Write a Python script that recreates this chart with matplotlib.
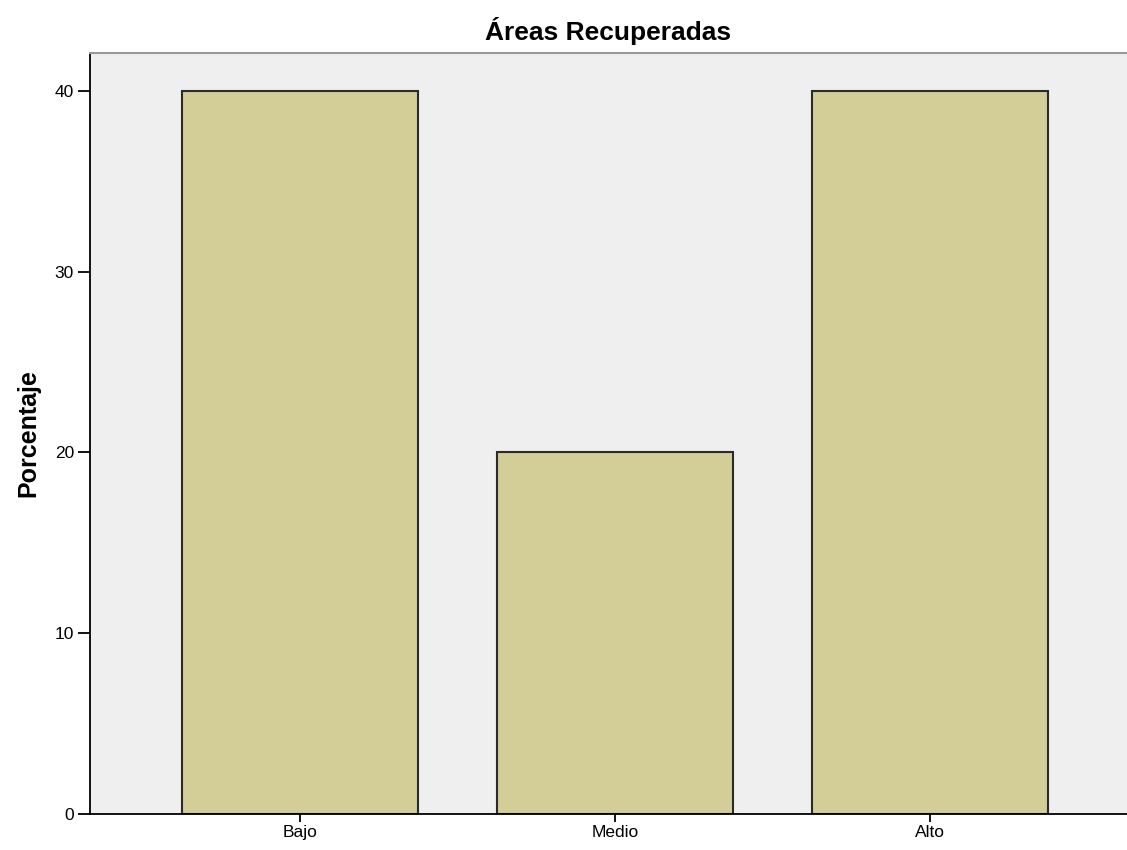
import matplotlib
matplotlib.use("Agg")
import matplotlib.pyplot as plt

plt.rcParams['font.family'] = ['Liberation Sans', 'DejaVu Sans']

categorias = ["Bajo", "Medio", "Alto"]
porcentajes = [40, 20, 40]
ticks_y = [0, 10, 20, 30, 40]

fig = plt.figure(figsize=(11.27, 8.5), dpi=100)
ax = fig.add_axes([90 / 1127, 36 / 850, 1 - 90 / 1127, 761 / 850])
ax.set_facecolor("#EFEFEF")

x = range(len(categorias))
ax.bar(x, porcentajes, width=0.75, color="#D3CE97", edgecolor="#2b2b2b", linewidth=1.5, zorder=2)

ax.set_xlim(-0.667, 2.625)
ax.set_ylim(0, 42.1)
ax.set_xticks(list(x))
ax.set_xticklabels(categorias, fontsize=12.5)
ax.set_yticks(ticks_y)
ax.set_yticklabels([str(t) for t in ticks_y], fontsize=12.5)
ax.tick_params(axis="y", length=8.5, width=1.3, pad=3)
ax.tick_params(axis="x", length=6, width=1.3, pad=2)

ax.spines["right"].set_visible(False)
ax.spines["top"].set_color("#999999")
ax.spines["top"].set_linewidth(1.5)
ax.spines["left"].set_linewidth(1.3)
ax.spines["bottom"].set_linewidth(1.3)

ax.set_ylabel("Porcentaje", fontsize=18, fontweight="bold", labelpad=10)
fig.text(608 / 1127, 1 - 31 / 850, "Áreas Recuperadas", fontsize=19, fontweight="bold",
         ha="center", va="center")

fig.savefig("out.png", dpi=100)
